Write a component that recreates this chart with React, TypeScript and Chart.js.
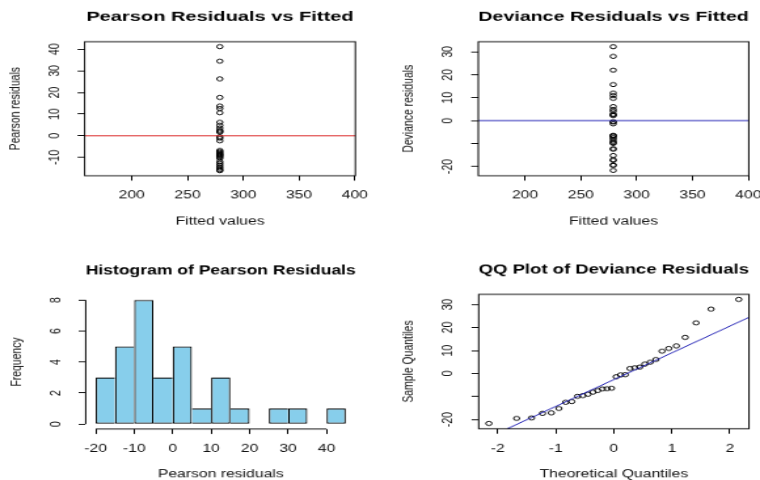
import { useEffect, useRef } from "react";
import { Chart, registerables } from "chart.js";

Chart.register(...registerables);

const FONT = '"Liberation Sans", Arial, Helvetica, sans-serif';

// ---------------- data ----------------
const FITTED_VALUE = 279;

const PEARSON_RESIDUALS = [
  41.2, 34.5, 26.3, 17.7, 13.7, 12.6, 10.6, 6.2, 4.8, 3.6, 2.5, 2.0, 1.6,
  -0.5, -1.2, -2.4, -6.8, -7.3, -7.8, -8.3, -8.7, -9.0, -9.4, -9.9,
  -10.5, -12.0, -12.8, -13.6, -14.4, -15.1, -15.8, -16.2,
];

const DEVIANCE_RESIDUALS_SORTED = [
  -21.7, -19.5, -19.3, -17.3, -17.1, -15.2, -12.5, -12.2, -9.9, -9.6, -9.0,
  -8.1, -7.4, -6.7, -6.6, -6.4, -1.4, -0.6, -0.5, 2.2, 2.5, 2.8, 4.1, 4.9,
  6.1, 9.7, 10.9, 12.0, 15.7, 22.0, 28.0, 32.2,
];

const THEORETICAL_QUANTILES = [
  -2.1538, -1.6759, -1.4178, -1.2298, -1.0776, -0.9467, -0.8306, -0.7249,
  -0.6261, -0.5338, -0.4454, -0.3601, -0.2776, -0.197, -0.1178, -0.0392,
  0.0392, 0.1178, 0.197, 0.2776, 0.3601, 0.4454, 0.5338, 0.6261, 0.7249,
  0.8306, 0.9467, 1.0776, 1.2298, 1.4178, 1.6759, 2.1538,
];

const HIST_BREAKS = [-20, -15, -10, -5, 0, 5, 10, 15, 20, 25, 30, 35, 40, 45];
const HIST_COUNTS = [3, 5, 8, 3, 5, 1, 3, 1, 0, 1, 1, 0, 1];

// tick values
const FITTED_TICKS = [200, 250, 300, 350, 400];
const PEARSON_TICKS = [-10, 0, 10, 20, 30, 40];
const DEVIANCE_TICKS = [-20, -10, 0, 10, 20, 30];
const DEVIANCE_HIDDEN_LABELS = [-10];
const HIST_X_TICKS = [-20, -10, 0, 10, 20, 30, 40];
const HIST_Y_TICKS = [0, 2, 4, 6, 8];
const QQ_X_TICKS = [-2, -1, 0, 1, 2];

// axis ranges
const FITTED_RANGE_L = [157.8, 400.5];
const FITTED_RANGE_R = [158.1, 400.4];
const PEARSON_RANGE = [-18.5, 43.5];
const DEVIANCE_RANGE = [-24.0, 34.4];
const HIST_X_RANGE = [-22.6, 47.6];
const HIST_Y_RANGE = [-0.32, 8.32];
const QQ_X_RANGE = [-2.33, 2.33];

// ---------------- layout (internal canvas px) ----------------
const W = 290;
const H = 265;
const CSS_W = 380;
const CSS_H = 240;
const TICK_LEN = 5.4;
const Y_LABEL_DIST = 23;
const X_LABEL_CENTER = 22;
const X_TITLE_DIST = 50.2;
const Y_TITLE_DIST = 53;
const TITLE_DIST = 27.3;
const TICK_SIZE = 12;
const YTICK_SIZE = 11.5;
const XTITLE_SIZE = 12;
const YTITLE_SIZE = 11.5;
const MAIN_SIZE = 15.3;

function quantile7(sorted: number[], p: number) {
  const h = (sorted.length - 1) * p;
  const lo = Math.floor(h);
  const hi = Math.min(lo + 1, sorted.length - 1);
  return sorted[lo] + (h - lo) * (sorted[hi] - sorted[lo]);
}

function measureWidest(labels: string[], size: number) {
  const c = document.createElement("canvas").getContext("2d")!;
  c.font = `${size}px ${FONT}`;
  return Math.max(0, ...labels.map((l) => c.measureText(l).width));
}

const boxPlugin = {
  id: "rbox",
  afterDatasetsDraw(chart: any) {
    const { ctx, chartArea: a } = chart;
    ctx.save();
    ctx.strokeStyle = "#000";
    ctx.lineWidth = 1;
    ctx.strokeRect(a.left, a.top, a.right - a.left, a.bottom - a.top);
    ctx.restore();
  },
};

const histAxesPlugin = {
  id: "rhistaxes",
  afterDraw(chart: any) {
    const { ctx, chartArea: a, scales } = chart;
    const x = scales.x;
    const y = scales.y;
    ctx.save();
    ctx.strokeStyle = "#000";
    ctx.lineWidth = 1;
    ctx.beginPath();
    ctx.moveTo(x.getPixelForValue(HIST_X_TICKS[0]), a.bottom);
    ctx.lineTo(x.getPixelForValue(HIST_X_TICKS[HIST_X_TICKS.length - 1]), a.bottom);
    ctx.moveTo(a.left, y.getPixelForValue(HIST_Y_TICKS[0]));
    ctx.lineTo(a.left, y.getPixelForValue(HIST_Y_TICKS[HIST_Y_TICKS.length - 1]));
    ctx.stroke();
    ctx.restore();
  },
};

type PanelCfg = {
  left: number;
  top: number;
  kind: "strip" | "hist" | "qq";
  title: string;
  xTitle: string;
  yTitle: string;
  area: { l: number; r: number; t: number; b: number };
  xRange: number[];
  yRange: number[];
  xTicks: number[];
  yTicks: number[];
  hidden: number[];
  values?: number[];
  lineColor?: string;
};

function buildDatasets(p: PanelCfg): any[] {
  const pointStyle = {
    pointRadius: 2.3,
    pointBorderWidth: 1,
    pointBorderColor: "#000",
    pointBackgroundColor: "rgba(0,0,0,0)",
    pointHoverRadius: 2.3,
  };
  if (p.kind === "strip") {
    return [
      {
        type: "line",
        data: [
          { x: p.xRange[0], y: 0 },
          { x: p.xRange[1], y: 0 },
        ],
        borderColor: p.lineColor,
        borderWidth: 1,
        pointRadius: 0,
        fill: false,
      },
      {
        type: "scatter",
        data: (p.values || []).map((v) => ({ x: FITTED_VALUE, y: v })),
        showLine: false,
        ...pointStyle,
      },
    ];
  }
  if (p.kind === "qq") {
    const q25 = quantile7(DEVIANCE_RESIDUALS_SORTED, 0.25);
    const q75 = quantile7(DEVIANCE_RESIDUALS_SORTED, 0.75);
    const z = 0.6744898;
    const slope = (q75 - q25) / (2 * z);
    const intercept = q25 + slope * z;
    return [
      {
        type: "line",
        data: p.xRange.map((x) => ({ x, y: intercept + slope * x })),
        borderColor: p.lineColor,
        borderWidth: 1,
        pointRadius: 0,
        fill: false,
      },
      {
        type: "scatter",
        data: THEORETICAL_QUANTILES.map((x, i) => ({ x, y: DEVIANCE_RESIDUALS_SORTED[i] })),
        showLine: false,
        ...pointStyle,
      },
    ];
  }
  // histogram
  const n = HIST_COUNTS.length;
  const bw = 1.2;
  const bars = HIST_COUNTS.map((c, i) => ({
    x: (HIST_BREAKS[i] + HIST_BREAKS[i + 1]) / 2,
    y: c,
    i,
  })).filter((d) => d.y > 0);
  return [
    {
      type: "bar",
      data: bars,
      backgroundColor: "#87CEEB",
      borderColor: "#000",
      borderSkipped: false,
      inflateAmount: 0,
      barPercentage: 1,
      categoryPercentage: 1,
      borderWidth: (ctx: any) => {
        const k = ctx.raw ? ctx.raw.i : undefined;
        if (k === undefined) return bw;
        const c = HIST_COUNTS[k];
        const prev = k > 0 ? HIST_COUNTS[k - 1] : 0;
        const next = k < n - 1 ? HIST_COUNTS[k + 1] : 0;
        return { top: bw, bottom: bw, left: prev <= c ? bw : 0, right: next < c ? bw : 0 };
      },
    },
  ];
}

function buildConfig(p: PanelCfg): any {
  const a = p.area;
  const yLabel = (v: number) => (p.hidden.includes(v) ? "" : String(v));
  const widest = measureWidest(p.yTicks.map(yLabel), YTICK_SIZE);
  const grid = {
    display: true,
    drawOnChartArea: false,
    drawTicks: true,
    tickLength: TICK_LEN,
    color: "#000",
    lineWidth: 1,
    offset: false,
  };
  return {
    type: p.kind === "hist" ? "bar" : "scatter",
    data: { datasets: buildDatasets(p) },
    plugins: [p.kind === "hist" ? histAxesPlugin : boxPlugin],
    options: {
      responsive: false,
      animation: false,
      devicePixelRatio: 1,
      events: [],
      layout: {
        autoPadding: false,
        padding: { left: 0, top: 0, right: W - a.r, bottom: 0 },
      },
      plugins: {
        legend: { display: false },
        tooltip: { enabled: false },
        title: {
          display: true,
          text: p.title,
          fullSize: false,
          color: "#000",
          font: { family: FONT, size: MAIN_SIZE, weight: "bold" },
          padding: {
            top: a.t - TITLE_DIST - (MAIN_SIZE * 1.2) / 2,
            bottom: TITLE_DIST - (MAIN_SIZE * 1.2) / 2,
          },
        },
      },
      scales: {
        x: {
          type: "linear",
          position: "bottom",
          min: p.xRange[0],
          max: p.xRange[1],
          offset: false,
          afterBuildTicks: (s: any) => {
            s.ticks = p.xTicks.map((v) => ({ value: v }));
          },
          afterFit: (s: any) => {
            s.height = H - a.b;
            s.paddingLeft = 0;
            s.paddingRight = 0;
          },
          grid,
          border: { display: false },
          ticks: {
            font: { family: FONT, size: TICK_SIZE },
            color: "#111",
            padding: X_LABEL_CENTER - TICK_LEN - (TICK_SIZE * 1.2) / 2,
            minRotation: 0,
            maxRotation: 0,
            autoSkip: false,
            callback: (v: number) => String(v),
          },
          title: {
            display: true,
            text: p.xTitle,
            color: "#111",
            font: { family: FONT, size: XTITLE_SIZE },
            padding: { top: 0, bottom: H - a.b - X_TITLE_DIST - (XTITLE_SIZE * 1.2) / 2 },
          },
        },
        y: {
          type: "linear",
          position: "left",
          min: p.yRange[0],
          max: p.yRange[1],
          beginAtZero: false,
          afterBuildTicks: (s: any) => {
            s.ticks = p.yTicks.map((v) => ({ value: v }));
          },
          afterFit: (s: any) => {
            s.width = a.l;
            s.paddingTop = 0;
            s.paddingBottom = 0;
          },
          grid,
          border: { display: false },
          ticks: {
            font: { family: FONT, size: YTICK_SIZE },
            color: "#111",
            padding: Y_LABEL_DIST - TICK_LEN - widest / 2,
            minRotation: 90,
            maxRotation: 90,
            crossAlign: "center",
            autoSkip: false,
            callback: (v: number) => yLabel(v),
          },
          title: {
            display: true,
            text: p.yTitle,
            color: "#111",
            font: { family: FONT, size: YTITLE_SIZE },
            padding: { top: a.l - Y_TITLE_DIST - (YTITLE_SIZE * 1.2) / 2, bottom: 0 },
          },
        },
      },
    },
  };
}

const PANELS: PanelCfg[] = [
  {
    left: 0,
    top: 0,
    kind: "strip",
    title: "Pearson Residuals vs Fitted",
    xTitle: "Fitted values",
    yTitle: "Pearson residuals",
    area: { l: 64.6, r: 271.2, t: 46.0, b: 194.0 },
    xRange: FITTED_RANGE_L,
    yRange: PEARSON_RANGE,
    xTicks: FITTED_TICKS,
    yTicks: PEARSON_TICKS,
    hidden: [],
    values: PEARSON_RESIDUALS,
    lineColor: "#d81818",
  },
  {
    left: 380,
    top: 0,
    kind: "strip",
    title: "Deviance Residuals vs Fitted",
    xTitle: "Fitted values",
    yTitle: "Deviance residuals",
    area: { l: 75.0, r: 281.4, t: 46.0, b: 194.0 },
    xRange: FITTED_RANGE_R,
    yRange: DEVIANCE_RANGE,
    xTicks: FITTED_TICKS,
    yTicks: DEVIANCE_TICKS,
    hidden: DEVIANCE_HIDDEN_LABELS,
    values: DEVIANCE_RESIDUALS_SORTED,
    lineColor: "#1414b0",
  },
  {
    left: 0,
    top: 240,
    kind: "hist",
    title: "Histogram of Pearson Residuals",
    xTitle: "Pearson residuals",
    yTitle: "Frequency",
    area: { l: 65.4, r: 271.5, t: 60.7, b: 208.7 },
    xRange: HIST_X_RANGE,
    yRange: HIST_Y_RANGE,
    xTicks: HIST_X_TICKS,
    yTicks: HIST_Y_TICKS,
    hidden: [],
  },
  {
    left: 380,
    top: 240,
    kind: "qq",
    title: "QQ Plot of Deviance Residuals",
    xTitle: "Theoretical Quantiles",
    yTitle: "Sample Quantiles",
    area: { l: 75.3, r: 281.6, t: 60.0, b: 208.4 },
    xRange: QQ_X_RANGE,
    yRange: DEVIANCE_RANGE,
    xTicks: QQ_X_TICKS,
    yTicks: DEVIANCE_TICKS,
    hidden: DEVIANCE_HIDDEN_LABELS,
    lineColor: "#1414b0",
  },
];

function Panel({ cfg }: { cfg: PanelCfg }) {
  const ref = useRef<HTMLCanvasElement>(null);
  useEffect(() => {
    if (!ref.current) return;
    const chart = new Chart(ref.current, buildConfig(cfg));
    return () => chart.destroy();
  }, [cfg]);
  return (
    <canvas
      ref={ref}
      width={W}
      height={H}
      style={{
        position: "absolute",
        left: cfg.left,
        top: cfg.top,
        width: `${CSS_W}px`,
        height: `${CSS_H}px`,
      }}
    />
  );
}

export default function App() {
  return (
    <div
      style={{
        position: "fixed",
        left: 0,
        top: 0,
        width: 760,
        height: 480,
        background: "#fff",
        overflow: "hidden",
      }}
    >
      {PANELS.map((p, i) => (
        <Panel key={i} cfg={p} />
      ))}
    </div>
  );
}
